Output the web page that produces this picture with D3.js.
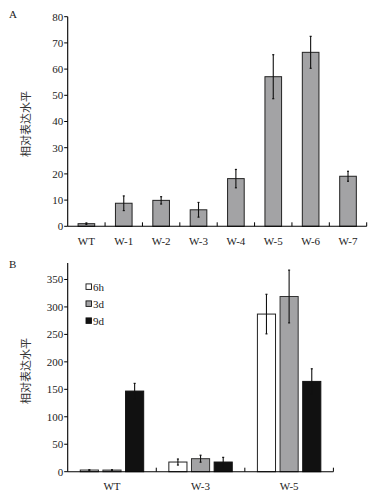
<!DOCTYPE html>
<html><head><meta charset="utf-8">
<script src="https://cdn.jsdelivr.net/npm/d3@7"></script>
<style>
body{margin:0;background:#fff;}
svg{display:block;}
</style></head>
<body>
<script>
// Panel A data
const catsA = ["WT","W-1","W-2","W-3","W-4","W-5","W-6","W-7"];
const valsA = [1.0, 8.8, 9.9, 6.3, 18.2, 57.1, 66.4, 19.1];
const errA  = [0.3, 2.8, 1.4, 2.8, 3.5, 8.4, 6.1, 1.9];
const ticksA = [0,10,20,30,40,50,60,70,80];

// Panel B data
const catsB = ["WT","W-3","W-5"];
const seriesB = ["6h","3d","9d"];
const vals6h = [3, 17.6, 287];
const vals3d = [3, 23.7, 319];
const vals9d = [146.8, 17.6, 164.4];
const err6h = [0.5, 5.5, 36];
const err3d = [0.5, 6.3, 48];
const err9d = [14, 8.5, 23];
const ticksB = [0,50,100,150,200,250,300,350];

const W = 373, H = 497;
const svg = d3.select("body").append("svg").attr("width", W).attr("height", H);
const serif = "'Liberation Serif','Times New Roman',serif";
const cjk = "'Noto Sans CJK SC','Noto Sans',sans-serif";
const grey = "#a3a3a5", black = "#111111";

function drawYTitle(cx, cy) {
  svg.append("text")
    .attr("transform", `translate(${cx},${cy}) rotate(-90)`)
    .attr("text-anchor","middle").attr("dominant-baseline","central")
    .attr("font-family", cjk).attr("font-size", 11).attr("fill","#333")
    .text("相对表达水平");
}

function drawYAxis(y, ticks, x0, top, bottom) {
  const g = svg.append("g");
  g.append("line").attr("x1",x0).attr("x2",x0).attr("y1",top).attr("y2",bottom)
    .attr("stroke","#000").attr("stroke-width",1.1);
  ticks.forEach(t => {
    g.append("line").attr("x1",x0-3.5).attr("x2",x0).attr("y1",y(t)).attr("y2",y(t))
      .attr("stroke","#000").attr("stroke-width",1);
    g.append("text").attr("x",x0-4.5).attr("y",y(t)).attr("dy","0.35em")
      .attr("text-anchor","end").attr("font-family",serif).attr("font-size",11)
      .attr("fill","#222").text(t);
  });
}

function errBar(x, yTop, yBot) {
  svg.append("line").attr("x1",x).attr("x2",x).attr("y1",yTop).attr("y2",yBot)
    .attr("stroke","#111").attr("stroke-width",1.1);
  [yTop,yBot].forEach(yy => svg.append("line").attr("x1",x-1).attr("x2",x+1)
    .attr("y1",yy).attr("y2",yy).attr("stroke","#111").attr("stroke-width",1.2));
}

// ---------- Panel A ----------
{
  const x0 = 67.7, x1 = 366.7, yb = 226.3, yt = 16.7;
  const x = d3.scaleBand().domain(catsA).range([x0, x1]).padding(0);
  const y = d3.scaleLinear().domain([0,80]).range([yb, yt]);
  const bw = x.bandwidth()*0.445;
  catsA.forEach((c,i) => {
    const cx = x(c) + x.bandwidth()/2;
    svg.append("rect").attr("x",cx-bw/2).attr("y",y(valsA[i]))
      .attr("width",bw).attr("height",yb-y(valsA[i]))
      .attr("fill",grey).attr("stroke","#222").attr("stroke-width",1);
    errBar(cx, y(valsA[i]+errA[i]), y(valsA[i]-errA[i]));
    svg.append("text").attr("x",cx).attr("y",244.5).attr("text-anchor","middle")
      .attr("font-family",serif).attr("font-size",11).attr("fill","#222").text(c);
  });
  // x axis
  svg.append("line").attr("x1",x0).attr("x2",x1).attr("y1",yb).attr("y2",yb)
    .attr("stroke","#000").attr("stroke-width",1.1);
  catsA.forEach((c,i) => { if (i>0) svg.append("line").attr("x1",x(c)).attr("x2",x(c))
    .attr("y1",yb).attr("y2",yb-4).attr("stroke","#000"); });
  svg.append("line").attr("x1",x1).attr("x2",x1).attr("y1",yb).attr("y2",yb-4).attr("stroke","#000");
  drawYAxis(y, ticksA, x0, yt, yb);
  drawYTitle(25, 124);
  svg.append("text").attr("x",9).attr("y",18).attr("font-family",serif)
    .attr("font-size",11).attr("fill","#222").text("A");
}

// ---------- Panel B ----------
{
  const x0 = 67.7, x1 = 333.4, yb = 471.7, yt = 263;
  const xg = d3.scaleBand().domain(catsB).range([x0, x1]).padding(0);
  const outer = xg.bandwidth()*0.142;
  const xs = d3.scaleBand().domain(seriesB).range([outer, xg.bandwidth()-outer]).paddingInner(0.2).paddingOuter(0);
  const y = d3.scaleLinear().domain([0,380]).range([yb, yt]);
  const vals = [vals6h, vals3d, vals9d], errs = [err6h, err3d, err9d];
  const fills = ["#ffffff", grey, black];
  const strokes = ["#222", "#333", "#111"];
  catsB.forEach((c,i) => {
    seriesB.forEach((s,j) => {
      const bx = xg(c) + xs(s);
      const v = vals[j][i];
      svg.append("rect").attr("x",bx).attr("y",y(v)).attr("width",xs.bandwidth())
        .attr("height",yb-y(v)).attr("fill",fills[j]).attr("stroke",strokes[j]).attr("stroke-width",1);
      errBar(bx + xs.bandwidth()/2, y(v+errs[j][i]), y(v-errs[j][i]));
    });
    svg.append("text").attr("x",xg(c)+xg.bandwidth()/2).attr("y",489.5).attr("text-anchor","middle")
      .attr("font-family",serif).attr("font-size",11).attr("fill","#222").text(c);
  });
  svg.append("line").attr("x1",x0).attr("x2",x1).attr("y1",yb).attr("y2",yb)
    .attr("stroke","#000").attr("stroke-width",1.1);
  catsB.forEach((c,i) => { if (i>0) svg.append("line").attr("x1",xg(c)).attr("x2",xg(c))
    .attr("y1",yb).attr("y2",yb-4).attr("stroke","#000"); });
  svg.append("line").attr("x1",x1).attr("x2",x1).attr("y1",yb).attr("y2",yb-4).attr("stroke","#000");
  drawYAxis(y, ticksB, x0, yt, yb);
  drawYTitle(25, 371);
  svg.append("text").attr("x",9).attr("y",268).attr("font-family",serif)
    .attr("font-size",11).attr("fill","#222").text("B");
  // legend
  const lg = svg.append("g");
  seriesB.forEach((s,j) => {
    const ly = 286.7 + j*17;
    lg.append("rect").attr("x",86).attr("y",ly-2.8).attr("width",5.5).attr("height",5.5)
      .attr("fill",fills[j]).attr("stroke","#111").attr("stroke-width",0.9);
    lg.append("text").attr("x",93).attr("y",ly).attr("dy","0.36em")
      .attr("font-family",serif).attr("font-size",11).attr("fill","#222").text(s);
  });
}
</script>
</body></html>
